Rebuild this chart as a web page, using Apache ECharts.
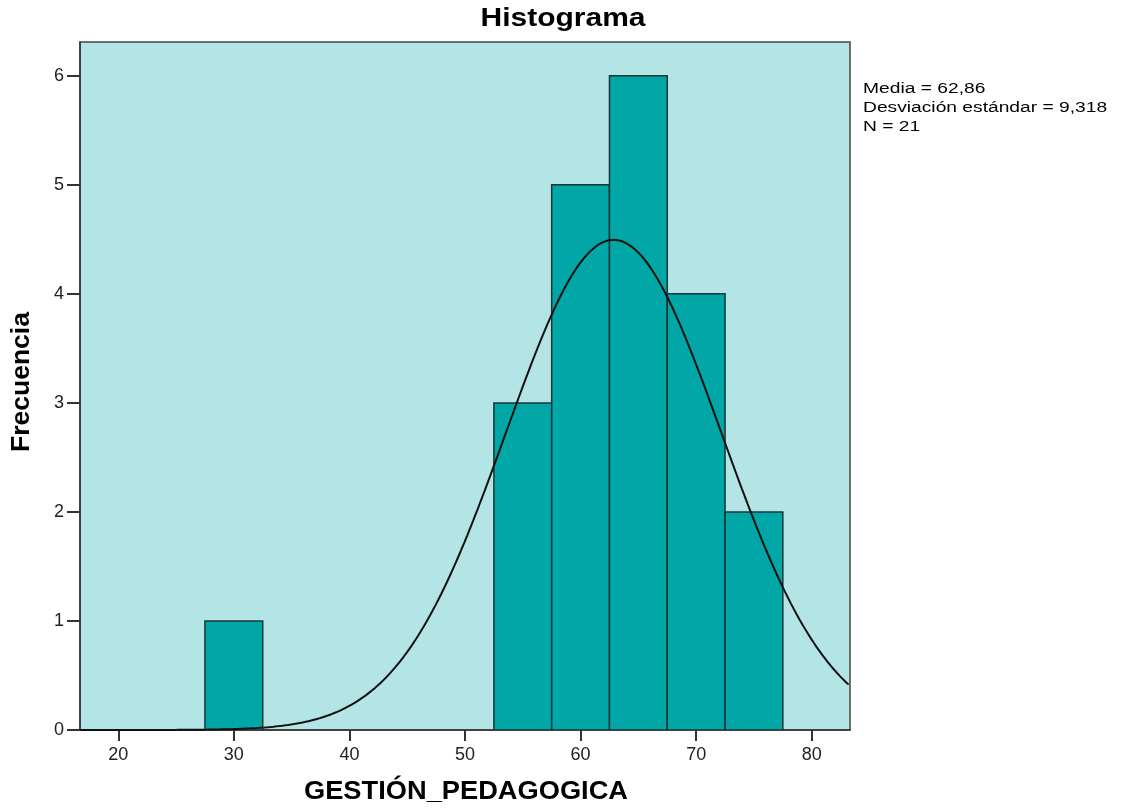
<!DOCTYPE html>
<html><head><meta charset="utf-8">
<script src="https://cdn.jsdelivr.net/npm/echarts@6/dist/echarts.min.js"></script>
<style>html,body{margin:0;padding:0;background:#fff}#c{width:1126px;height:810px}</style>
</head><body><div id="c"></div>
<script>
const binStarts = [27.5, 52.5, 57.5, 62.5, 67.5, 72.5];
const binWidth = 5;
const counts = [1, 3, 5, 6, 4, 2];
const xTicks = [20, 30, 40, 50, 60, 70, 80];
const yTicks = [0, 1, 2, 3, 4, 5, 6];
const mean = 62.86, sd = 9.318, n = 21;
const titleText = 'Histograma';
const xTitle = 'GESTIÓN_PEDAGOGICA';
const yTitle = 'Frecuencia';
const statsLines = ['Media = 62,86', 'Desviación estándar = 9,318', 'N = 21'];

const bins = binStarts.map((s, i) => [s, s + binWidth, counts[i]]);
const curve = [];
for (let x = 16.69; x <= 83.32; x += 0.25) {
  const z = (x - mean) / sd;
  curve.push([x, n * binWidth * Math.exp(-0.5 * z * z) / (sd * Math.sqrt(2 * Math.PI))]);
}

const FF = '"Liberation Sans", Arial, sans-serif';
const chart = echarts.init(document.getElementById('c'));
chart.setOption({
  animation: false,
  grid: { left: 80, top: 42, right: 276, bottom: 80, outerBoundsMode: 'none', containLabel: false,
    show: true, backgroundColor: '#b4e5e6', borderColor: '#444', borderWidth: 1.5 },
  xAxis: { type: 'value', min: 16.69, max: 83.31,
    axisLine: { show: true, lineStyle: { color: '#333', width: 1.5 } },
    axisTick: { show: true, customValues: xTicks, length: 11, lineStyle: { color: '#333', width: 2 } },
    axisLabel: { customValues: xTicks, fontFamily: FF, fontSize: 18, color: '#222', margin: 16 },
    splitLine: { show: false } },
  yAxis: { type: 'value', min: 0, max: 6.31,
    axisLine: { show: true, lineStyle: { color: '#333', width: 1.5 } },
    axisTick: { show: true, customValues: yTicks, length: 13, lineStyle: { color: '#333', width: 2 } },
    axisLabel: { customValues: yTicks, fontFamily: FF, fontSize: 18, color: '#222', margin: 16 },
    splitLine: { show: false } },
  series: [
    { type: 'custom', data: bins, clip: true,
      renderItem: function (params, api) {
        const p0 = api.coord([api.value(0), api.value(2)]);
        const p1 = api.coord([api.value(1), 0]);
        return { type: 'rect', shape: { x: p0[0], y: p0[1], width: p1[0] - p0[0], height: p1[1] - p0[1] },
          style: { fill: '#00a7a6', stroke: '#1b3434', lineWidth: 1.5 } };
      } },
    { type: 'line', data: curve, showSymbol: false, smooth: false, clip: true,
      lineStyle: { color: '#111', width: 2 } }
  ],
  graphic: [
    { type: 'text', x: 563, y: 19, scaleX: 1.2,
      style: { text: titleText, font: 'bold 25px ' + FF, fill: '#000', align: 'center', verticalAlign: 'middle' } },
    { type: 'text', x: 466, y: 792, scaleX: 1.09,
      style: { text: xTitle, font: 'bold 25px ' + FF, fill: '#000', align: 'center', verticalAlign: 'middle' } },
    { type: 'text', x: 22, y: 382, rotation: Math.PI / 2, scaleX: 1.06,
      style: { text: yTitle, font: 'bold 25px ' + FF, fill: '#000', align: 'center', verticalAlign: 'middle' } }
  ].concat(statsLines.map((t, i) => ({ type: 'text', x: 863, y: 88.5 + i * 19, scaleX: 1.24,
    style: { text: t, font: '15.5px ' + FF, fill: '#000', align: 'left', verticalAlign: 'middle' } })))
});
</script></body></html>
